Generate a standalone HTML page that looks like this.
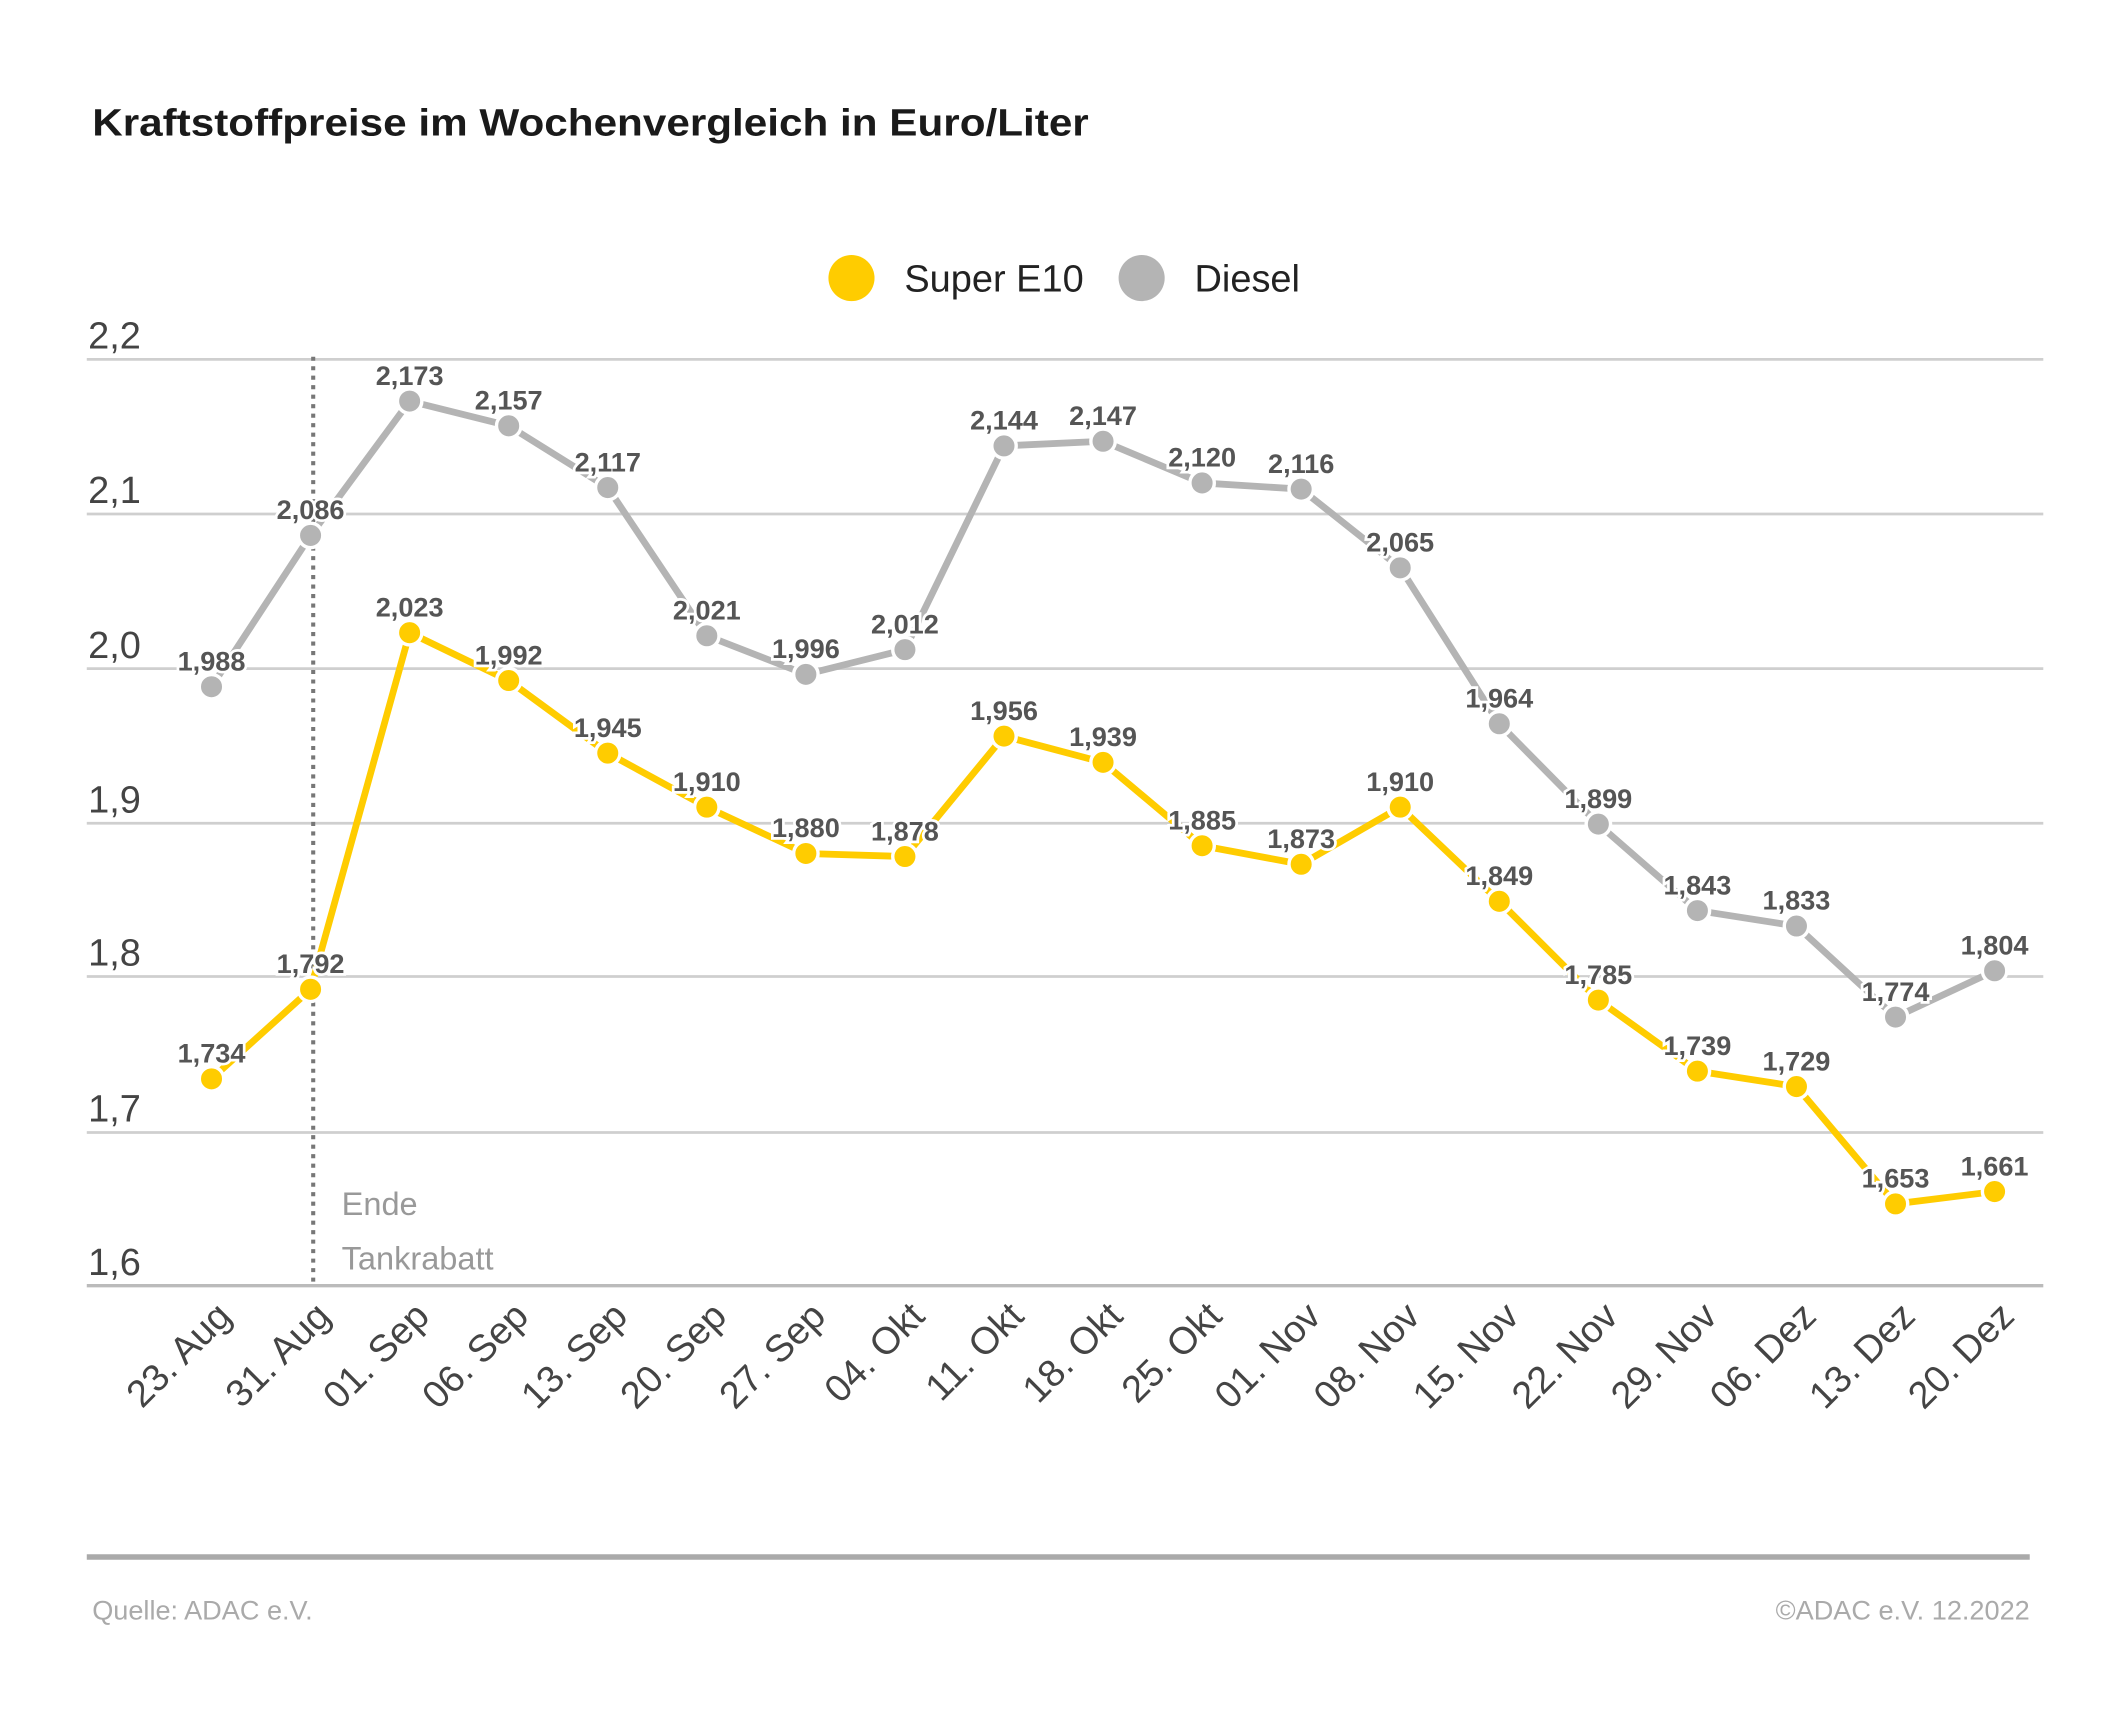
<!DOCTYPE html>
<html><head><meta charset="utf-8"><style>html,body{margin:0;padding:0;background:#fff}svg{display:block}</style></head><body>
<svg width="2126" height="1736" viewBox="0 0 1568 1280" preserveAspectRatio="none" xmlns="http://www.w3.org/2000/svg" font-family="Liberation Sans, DejaVu Sans, sans-serif">
<rect width="1568" height="1280" fill="#fff"/>
<text x="68" y="100" font-size="28" font-weight="bold" fill="#1a1a1a" textLength="735" lengthAdjust="spacingAndGlyphs">Kraftstoffpreise im Wochenvergleich in Euro/Liter</text>
<circle cx="628" cy="205" r="17" fill="#FFCC00"/><text x="667" y="215" font-size="28" fill="#222">Super E10</text>
<circle cx="842" cy="205" r="17" fill="#b4b4b4"/><text x="881" y="215" font-size="28" fill="#222">Diesel</text>
<g stroke="#cfcfcf" stroke-width="2">
<line x1="64" x2="1507" y1="265" y2="265"/><line x1="64" x2="1507" y1="379" y2="379"/><line x1="64" x2="1507" y1="493" y2="493"/><line x1="64" x2="1507" y1="607" y2="607"/><line x1="64" x2="1507" y1="720" y2="720"/><line x1="64" x2="1507" y1="835" y2="835"/></g>
<line x1="64" x2="1507" y1="948" y2="948" stroke="#bbb" stroke-width="2.5"/>
<g font-size="28" fill="#444"><text x="65" y="257">2,2</text><text x="65" y="371">2,1</text><text x="65" y="485">2,0</text><text x="65" y="599">1,9</text><text x="65" y="712">1,8</text><text x="65" y="827">1,7</text><text x="65" y="940">1,6</text></g>
<line x1="231" x2="231" y1="263" y2="948" stroke="#777" stroke-width="3" stroke-dasharray="3,4"/>
<text x="252" y="896" font-size="24" fill="#999">Ende</text><text x="252" y="936" font-size="24" fill="#999">Tankrabatt</text>
<g id="c"></g>
<line x1="64" x2="1497" y1="1148" y2="1148" stroke="#aaa" stroke-width="4"/>
<text x="68" y="1194" font-size="20" fill="#aaa">Quelle: ADAC e.V.</text>
<text x="1497" y="1194" font-size="20" fill="#aaa" text-anchor="end">©ADAC e.V.  12.2022</text>
</svg>
<script>
const L=["23. Aug","31. Aug","01. Sep","06. Sep","13. Sep","20. Sep","27. Sep","04. Okt","11. Okt","18. Okt","25. Okt","01. Nov","08. Nov","15. Nov","22. Nov","29. Nov","06. Dez","13. Dez","20. Dez"];
const E=[1.734,1.792,2.023,1.992,1.945,1.910,1.880,1.878,1.956,1.939,1.885,1.873,1.910,1.849,1.785,1.739,1.729,1.653,1.661];
const D=[1.988,2.086,2.173,2.157,2.117,2.021,1.996,2.012,2.144,2.147,2.120,2.116,2.065,1.964,1.899,1.843,1.833,1.774,1.804];
const X=i=>156+i*73.06, Y=v=>948-(v-1.6)*1138.3;
let s="";
for(const [d,c] of [[D,"#b4b4b4"],[E,"#FFCC00"]]){
 s+=`<polyline fill="none" stroke="${c}" stroke-width="5" stroke-linejoin="round" points="${d.map((v,i)=>X(i)+","+Y(v)).join(" ")}"/>`;
 d.forEach((v,i)=>{s+=`<circle cx="${X(i)}" cy="${Y(v)}" r="9" fill="${c}" stroke="#fff" stroke-width="2.5"/>`;});
 d.forEach((v,i)=>{s+=`<text x="${X(i)}" y="${Y(v)-12}" font-size="20" font-weight="bold" fill="#555" text-anchor="middle" stroke="#fff" stroke-width="4" paint-order="stroke">${v.toFixed(3).replace(".",",")}</text>`;});
}
L.forEach((l,i)=>{const x=X(i)+16,y=972;s+=`<text x="${x}" y="${y}" font-size="28" fill="#444" text-anchor="end" transform="rotate(-45 ${x} ${y})">${l}</text>`;});
document.getElementById("c").innerHTML=s;
</script>
</body></html>
